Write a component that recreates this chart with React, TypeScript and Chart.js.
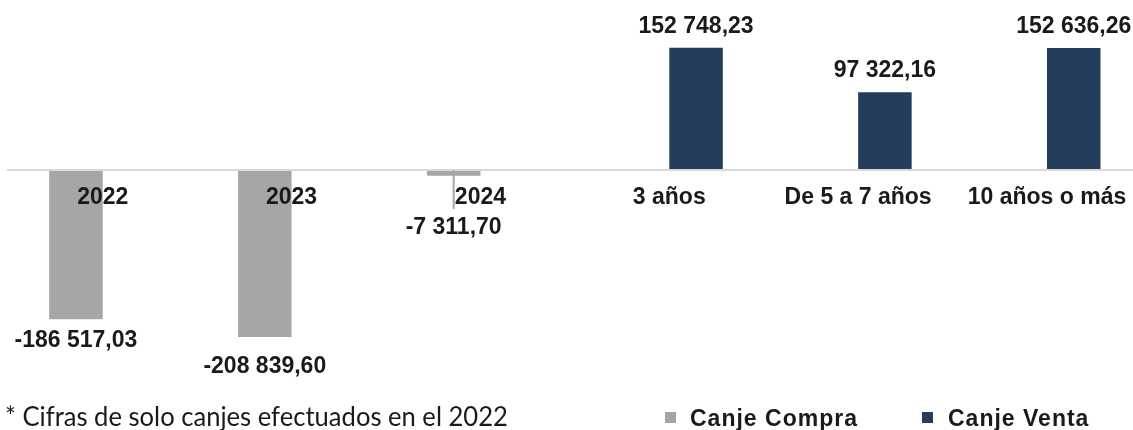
import React, { useEffect, useRef } from 'react';
import { Chart, registerables } from 'chart.js';

Chart.register(...registerables);

const categories = ['2022', '2023', '2024', '3 años', 'De 5 a 7 años', '10 años o más'];
const canjeCompra = [-186517.03, -208839.6, -7311.7, null, null, null];
const canjeVenta = [null, null, null, 152748.23, 97322.16, 152636.26];
const seriesNames = ['Canje Compra', 'Canje Venta'];
const footnote = '* Cifras de solo canjes efectuados en el 2022';

const GRAY = '#a6a6a6';
const NAVY = '#253d5c';
const TEXT = '#1a1a1a';
const FONT = '"Liberation Sans", Arial, sans-serif';

function fmt(v: number): string {
  const neg = v < 0;
  const [i, d] = Math.abs(v).toFixed(2).split('.');
  const int = i.replace(/\B(?=(\d{3})+(?!\d))/g, ' ');
  return (neg ? '-' : '') + int + ',' + d;
}

const labelPlugin = {
  id: 'valueLabels',
  afterDraw(chart: any) {
    const ctx = chart.ctx;
    ctx.save();
    ctx.font = `bold 23px ${FONT}`;
    ctx.fillStyle = TEXT;
    ctx.textAlign = 'center';
    ctx.textBaseline = 'alphabetic';
    chart.data.datasets.forEach((ds: any, di: number) => {
      const meta = chart.getDatasetMeta(di);
      meta.data.forEach((bar: any, i: number) => {
        const v = ds.data[i];
        if (v === null || v === undefined) return;
        const x = bar.x;
        if (v >= 0) {
          ctx.fillText(fmt(v), x, bar.y - 15);
        } else {
          const bottom = bar.y;
          const small = bottom - bar.base < 20;
          if (small) {
            ctx.strokeStyle = GRAY;
            ctx.lineWidth = 2;
            ctx.beginPath();
            ctx.moveTo(x, bar.base);
            ctx.lineTo(x, bottom + 33);
            ctx.stroke();
            ctx.fillText(fmt(v), x, bottom + 58);
          } else {
            const extra = i === 1 ? 36 : 28;
            ctx.fillText(fmt(v), x, bottom + extra);
          }
        }
      });
    });
    ctx.restore();
  },
};

export default function App() {
  const ref = useRef<HTMLCanvasElement>(null);
  useEffect(() => {
    if (!ref.current) return;
    const chart = new Chart(ref.current, {
      type: 'bar',
      data: {
        labels: categories,
        datasets: [
          { label: seriesNames[0], data: canjeCompra, backgroundColor: GRAY, borderWidth: 0 },
          { label: seriesNames[1], data: canjeVenta, backgroundColor: NAVY, borderWidth: 0 },
        ],
      },
      options: {
        animation: false,
        responsive: false,
        devicePixelRatio: 1,
        categoryPercentage: 0.567,
        barPercentage: 1.0,
        layout: { padding: { left: 8.3, right: 0.6, top: 10, bottom: 52 } },
        plugins: { legend: { display: false }, tooltip: { enabled: false } },
        scales: {
          x: {
            position: { y: 0 } as any,
            grid: { display: false, drawTicks: false },
            border: { display: true, color: '#d9d9d9', width: 2, z: 1 },
            ticks: {
              z: 2,
              color: TEXT,
              font: { family: FONT, size: 23, weight: 'bold' },
              padding: 14,
              autoSkip: false,
              maxRotation: 0,
            },
          },
          y: {
            display: false,
            min: -260000,
            max: 200000,
          },
        },
      },
      plugins: [labelPlugin],
    });
    return () => chart.destroy();
  }, []);

  return (
    <div style={{ position: 'absolute', left: 0, top: 0, width: 1133, height: 430, overflow: 'hidden', background: '#fff' }}>
      <canvas ref={ref} width={1142} height={430} style={{ position: 'absolute', left: 0, top: 0 }} />
      <div style={{ position: 'absolute', left: 5, top: 403, fontFamily: 'Lato, sans-serif', fontSize: 25.6, lineHeight: '27px', color: TEXT, whiteSpace: 'nowrap', transform: 'scaleY(1.07)', transformOrigin: 'left bottom' }}>
        {footnote}
      </div>
      <div style={{ position: 'absolute', left: 665, top: 412, width: 11, height: 11, background: GRAY }} />
      <div style={{ position: 'absolute', left: 690, top: 407, fontFamily: FONT, fontWeight: 'bold', fontSize: 23, lineHeight: '23px', letterSpacing: 1, color: TEXT, whiteSpace: 'nowrap' }}>
        {seriesNames[0]}
      </div>
      <div style={{ position: 'absolute', left: 922, top: 412, width: 11, height: 11, background: NAVY }} />
      <div style={{ position: 'absolute', left: 948, top: 407, fontFamily: FONT, fontWeight: 'bold', fontSize: 23, lineHeight: '23px', letterSpacing: 1, color: TEXT, whiteSpace: 'nowrap' }}>
        {seriesNames[1]}
      </div>
    </div>
  );
}
